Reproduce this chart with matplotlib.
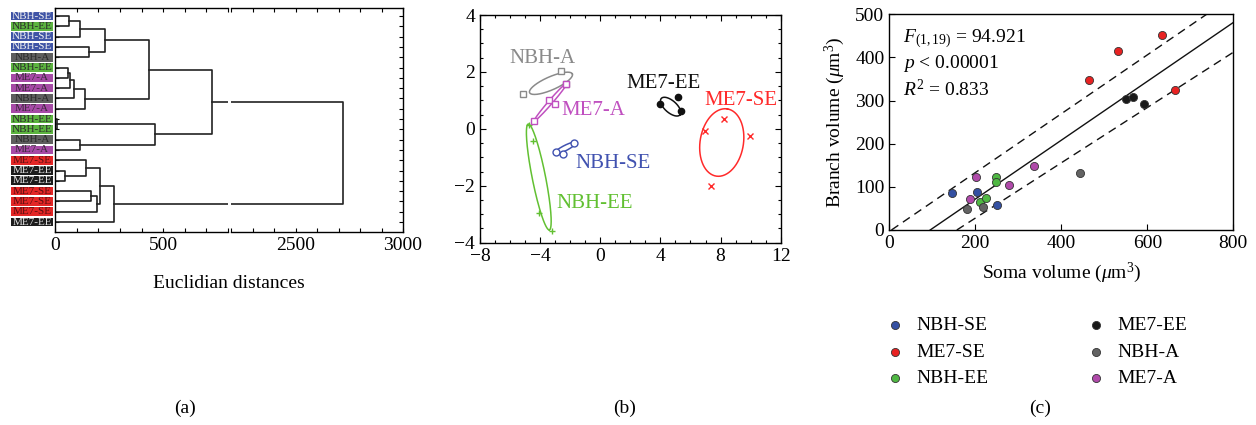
import numpy as np
import matplotlib
matplotlib.use('Agg')
import matplotlib.pyplot as plt
from matplotlib.ticker import MultipleLocator, FixedLocator

plt.rcParams['font.family'] = ['Liberation Serif', 'DejaVu Serif']
plt.rcParams['mathtext.fontset'] = 'custom'
plt.rcParams['mathtext.rm'] = 'Liberation Serif'
plt.rcParams['mathtext.it'] = 'Liberation Serif:italic'
plt.rcParams['xtick.direction'] = 'in'
plt.rcParams['ytick.direction'] = 'in'
plt.rcParams['axes.linewidth'] = 1.0

""" (a) dendrogram """
leaf_labels = ['NBH-SE', 'NBH-EE', 'NBH-SE', 'NBH-SE', 'NBH-A', 'NBH-EE', 'ME7-A',
               'ME7-A', 'NBH-A', 'ME7-A', 'NBH-EE', 'NBH-EE', 'NBH-A', 'ME7-A',
               'ME7-SE', 'ME7-EE', 'ME7-EE', 'ME7-SE', 'ME7-SE', 'ME7-SE', 'ME7-EE']
# child a, child b, merge distance ; new cluster id = len(leaves) + row
link_a = [0, 21, 3, 22, 5, 25, 26, 27, 24, 10, 12, 30, 29, 15, 14, 17, 36, 35, 38, 33]
link_b = [1, 2, 4, 23, 6, 7, 8, 9, 28, 11, 13, 31, 32, 16, 34, 18, 19, 37, 20, 39]
link_h = [63, 115, 154, 229, 60, 68, 85, 138, 432, 9, 115, 462, 725, 45, 142, 165, 192, 209, 274, 2722]

box_col = {'NBH-SE': '#3f54a6', 'NBH-EE': '#5cb43f', 'NBH-A': '#5e5e5e',
           'ME7-A': '#a64aa6', 'ME7-SE': '#e32626', 'ME7-EE': '#1c1c1c'}
txt_col = {'NBH-SE': '#f0f0f0', 'NBH-EE': '#2a2a2a', 'NBH-A': '#2a2a2a',
           'ME7-A': '#3a2a3a', 'ME7-SE': '#5a1010', 'ME7-EE': '#e0e0e0'}

""" (b) PCA scatter """
groups = ['NBH-SE', 'ME7-SE', 'NBH-EE', 'ME7-EE', 'NBH-A', 'ME7-A']
pca_x = [[-2.94, -2.46, -1.75], [6.97, 8.25, 9.96, 7.34], [-4.72, -4.45, -4.08, -3.21],
         [3.97, 5.19, 5.35], [-5.12, -2.61, -2.3], [-2.3, -3.39, -3.01, -4.39]]
pca_y = [[-0.8, -0.88, -0.51], [-0.07, 0.35, -0.26, -2.0], [0.15, -0.41, -2.97, -3.58],
         [0.86, 1.12, 0.63], [1.22, 2.03, 1.56], [1.56, 1.03, 0.86, 0.29]]
# ellipse centre and two semi-axis vectors
ell_c = [(-2.35, -0.68), (8.08, -0.48), (-4.09, -1.69), (4.68, 0.78), (-3.28, 1.60), (-3.31, 0.94)]
ell_u = [(0.73, 0.2), (0.377, 1.18), (0.70, -1.86), (0.62, -0.29), (1.42, 0.33), (1.08, 0.66)]
ell_v = [(0.08, -0.083), (1.42, -0.126), (0.435, 0.046), (0.27, 0.157), (0.18, -0.21), (0.10, -0.046)]
pca_col = ['#4152b0', '#ff2a2a', '#62c032', '#111111', '#8a8a8a', '#c050c0']
pca_mk = ['o', 'x', '+', 'o', 's', 's']
pca_lab_xy = [(-1.68, -1.2), (6.9, 1.0), (-2.94, -2.64), (1.76, 1.6), (-6.05, 2.48), (-2.57, 0.66)]

""" (c) soma vs branch """
soma = [[145, 203, 250], [464, 533, 634, 664], [210, 225, 249, 249],
        [550, 567, 592], [181, 217, 443], [202, 188, 278, 336]]
branch = [[86, 88, 58], [348, 414, 452, 325], [66, 75, 122, 112],
          [304, 309, 291], [48, 53, 131], [123, 72, 105, 148]]
dot_col = ['#3450a2', '#e82222', '#4fb843', '#1a1a1a', '#636363', '#b04aaa']
fit_x, fit_y = [95, 800], [0, 481]
up_x, up_y = [5, 738], [0, 500]
lo_x, lo_y = [157, 800], [0, 412]

W, H = 1256, 425
fig = plt.figure(figsize=(W / 100, H / 100), dpi=100)


def rect(x0, y0, x1, y1):
    return [x0 / W, 1 - y1 / H, (x1 - x0) / W, (y1 - y0) / H]


# ---- panel a
n = len(leaf_labels)
axL = fig.add_axes(rect(55.3, 8, 228, 232))
axR = fig.add_axes(rect(231, 8, 403, 232))
axT = fig.add_axes(rect(11, 8, 53, 232))

node_h = {i: 0.0 for i in range(n)}
node_y = {i: float(i) for i in range(n)}
for r, (a, b, h) in enumerate(zip(link_a, link_b, link_h)):
    xs = [node_h[a], h, h, node_h[b]]
    ys = [node_y[a], node_y[a], node_y[b], node_y[b]]
    for ax in (axL, axR):
        ax.plot(xs, ys, color='#222222', lw=1.2)
    node_h[n + r] = h
    node_y[n + r] = (node_y[a] + node_y[b]) / 2

for ax, lim in ((axL, (0, 800)), (axR, (2200, 3000))):
    ax.set_xlim(*lim)
    ax.set_ylim(n - 0.03, -0.78)
    ax.xaxis.set_minor_locator(MultipleLocator(100))
    ax.tick_params(which='both', top=True, length=3, labelsize=14, width=0.8)
    ax.yaxis.set_major_locator(FixedLocator(range(n)))
    ax.set_yticklabels([])
axL.set_xticks([0, 500])
axR.set_xticks([2500, 3000])
axL.spines['right'].set_visible(False)
axR.spines['left'].set_visible(False)
axL.tick_params(axis='y', left=True, right=False, length=3)
axR.tick_params(axis='y', left=False, right=True, length=3)
fig.text(229 / W, 1 - 283 / H, 'Euclidian distances', ha='center', va='center', fontsize=14)

axT.barh(range(n), 1, height=0.84, color=[box_col[l] for l in leaf_labels])
for i, l in enumerate(leaf_labels):
    axT.text(0.5, i, l, ha='center', va='center', fontsize=8, color=txt_col[l])
axT.set_xlim(0, 1)
axT.set_ylim(n - 0.03, -0.78)
axT.axis('off')

# ---- panel b
axb = fig.add_axes(rect(480, 15, 780.7, 242.7))
t = np.linspace(0, 2 * np.pi, 200)
for i, g in enumerate(groups):
    c, u, v = ell_c[i], ell_u[i], ell_v[i]
    axb.plot(c[0] + u[0] * np.cos(t) + v[0] * np.sin(t),
             c[1] + u[1] * np.cos(t) + v[1] * np.sin(t), color=pca_col[i], lw=1.1)
    if pca_mk[i] in ('x', '+'):
        axb.plot(pca_x[i], pca_y[i], pca_mk[i], color=pca_col[i], ms=5, mew=1.0)
    elif g == 'ME7-EE':
        axb.plot(pca_x[i], pca_y[i], 'o', color=pca_col[i], ms=4.5)
    else:
        axb.plot(pca_x[i], pca_y[i], pca_mk[i], mfc='white', mec=pca_col[i], ms=5, mew=1.0)
    axb.text(pca_lab_xy[i][0], pca_lab_xy[i][1], g, color=pca_col[i], fontsize=15,
             va='center', ha='left')
axb.set_xlim(-8, 12)
axb.set_ylim(-4, 4)
axb.set_xticks([-8, -4, 0, 4, 8, 12])
axb.set_yticks([-4, -2, 0, 2, 4])
axb.xaxis.set_minor_locator(MultipleLocator(1))
axb.yaxis.set_minor_locator(MultipleLocator(0.5))
axb.tick_params(which='both', top=True, right=True, labelsize=14, width=0.8)
axb.tick_params(which='major', length=4)
axb.tick_params(which='minor', length=2.5)
axb.set_xticklabels(['\u22128', '\u22124', '0', '4', '8', '12'])
axb.set_yticklabels(['\u22124', '\u22122', '0', '2', '4'])

# ---- panel c
axc = fig.add_axes(rect(889.3, 14.3, 1233.3, 230))
for i, g in enumerate(groups):
    axc.scatter(soma[i], branch[i], s=34, color=dot_col[i], edgecolor='#333333',
                linewidth=0.6, zorder=3, label=g)
axc.plot(fit_x, fit_y, color='#111111', lw=1.0)
axc.plot(up_x, up_y, color='#111111', lw=1.0, dashes=(6, 4))
axc.plot(lo_x, lo_y, color='#111111', lw=1.0, dashes=(6, 4))
axc.set_xlim(0, 800)
axc.set_ylim(0, 500)
axc.set_xticks(range(0, 801, 200))
axc.set_yticks(range(0, 501, 100))
axc.tick_params(labelsize=14, length=4, width=0.8)
axc.set_xlabel('Soma volume ($\\mu$m$^3$)', fontsize=14, labelpad=6)
axc.set_ylabel('Branch volume ($\\mu$m$^3$)', fontsize=14, labelpad=6)
axc.text(0.04, 0.94, '$F_{(1,19)}$ = 94.921', transform=axc.transAxes, fontsize=14, va='top')
axc.text(0.04, 0.82, '$p$ < 0.00001', transform=axc.transAxes, fontsize=14, va='top')
axc.text(0.04, 0.70, '$R^2$ = 0.833', transform=axc.transAxes, fontsize=14, va='top')
axc.legend(loc='upper left', bbox_to_anchor=(876 / W, 1 - 307 / H), bbox_transform=fig.transFigure,
           ncol=2, frameon=False, fontsize=14, handlelength=1.0, handletextpad=0.6,
           columnspacing=5.0, labelspacing=0.45, borderpad=0)

fig.text(185 / W, 1 - 408 / H, '(a)', ha='center', va='center', fontsize=14)
fig.text(625 / W, 1 - 408 / H, '(b)', ha='center', va='center', fontsize=14)
fig.text(1040 / W, 1 - 408 / H, '(c)', ha='center', va='center', fontsize=14)

fig.savefig('out.png', dpi=100)
